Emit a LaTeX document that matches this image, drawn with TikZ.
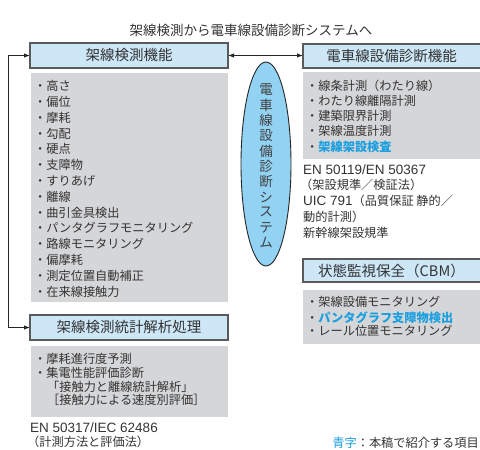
\documentclass[tikz,border=0pt]{standalone}
\usepackage{fontspec}
\setmainfont{Noto Sans CJK JP}
\newfontfamily\lat{Liberation Sans}
\usetikzlibrary{arrows.meta,shapes.geometric}
\definecolor{txt}{HTML}{333333}
\definecolor{hdfill}{HTML}{CDE7F7}
\definecolor{hdline}{HTML}{5A5A5A}
\definecolor{gfill}{HTML}{D5D6D8}
\definecolor{blu}{HTML}{1A9FE0}
\definecolor{ellfill}{HTML}{92D2F2}
\tikzset{
  hdr/.style={draw=hdline,line width=1.1pt,fill=hdfill},
  gbox/.style={fill=gfill},
  hdtext/.style={text=txt,font=\fontsize{14.5}{16}\selectfont,inner sep=0pt},
  item/.style={anchor=west,text=txt,font=\fontsize{12.2}{14}\selectfont,inner sep=0pt},
  latitem/.style={anchor=west,text=txt,font=\fontsize{13.5}{15}\selectfont\lat,inner sep=0pt},
  conn/.style={line width=0.9pt,draw=black!85,-{Latex[length=6pt,width=4.5pt]}},
}
\begin{document}
\begin{tikzpicture}[x=1pt,y=-1pt]
\useasboundingbox (0,0) rectangle (480,450);
% title
\node[hdtext,font=\fontsize{13.5}{15}\selectfont] (title) at (251,30) {架線検測から電車線設備診断システムへ};
% left column
\draw[hdr] (30,43) rectangle (228,68);
\node[hdtext] (h1) at (129,55.5) {架線検測機能};
\fill[gbox] (31,73) rectangle (228,302);
\foreach \t [count=\i] in {高さ,偏位,摩耗,勾配,硬点,支障物,すりあげ,離線,曲引金具検出,パンタグラフモニタリング,路線モニタリング,偏摩耗,測定位置自動補正,在来線接触力}
  \node[item] (a\i) at (34,{86+15.8*(\i-1)}) {・\t};
\draw[hdr] (30,315) rectangle (228,340);
\node[hdtext] (h3) at (129,327.5) {架線検測統計解析処理};
\fill[gbox] (31,346) rectangle (228,417);
\node[item] (b1) at (34,359) {・摩耗進行度予測};
\node[item] (b2) at (34,373) {・集電性能評価診断};
\node[item] (b3) at (47,386.5) {「接触力と離線統計解析」};
\node[item] (b4) at (47,400) {［接触力による速度別評価］};
\node[latitem] (b5) at (30,428) {EN 50317/IEC 62486};
\node[item] (b6) at (27,442) {（計測方法と評価法）};
% left bracket connector
\coordinate (h1w) at (30,55.5);
\coordinate (h3w) at (30,327.5);
\draw[conn,{Latex[length=6pt,width=4.5pt]}-{Latex[length=6pt,width=4.5pt]}] (h1w) -- (8,55.5) |- (h3w);
% right column
\draw[hdr] (303,44) rectangle (482,68);
\node[hdtext] (h2) at (391.5,56) {電車線設備診断機能};
\fill[gbox] (303,72) rectangle (482,159);
\node[item] (c1) at (306,86) {・線条計測（わたり線）};
\node[item] (c2) at (306,101) {・わたり線離隔計測};
\node[item] (c3) at (306,116) {・建築限界計測};
\node[item] (c4) at (306,131) {・架線温度計測};
\node[item] (c5) at (306,147) {・\textcolor{blu}{\bfseries 架線架設検査}};
\node[latitem] (d1) at (303,170) {EN 50119/EN 50367};
\node[item] (d2) at (300,185) {（架設規準／検証法）};
\node[item] (d3) at (303,200.5) {{\lat\fontsize{13.5}{15}\selectfont UIC 791}（品質保証 静的／};
\node[item] (d4) at (303,217) {動的計測）};
\node[item] (d5) at (303,233) {新幹線架設規準};
\draw[hdr] (303,259) rectangle (482,282);
\node[hdtext] (h4) at (391.5,270.5) {状態監視保全（CBM）};
\fill[gbox] (303,290) rectangle (482,344);
\node[item] (e1) at (306,302) {・架線設備モニタリング};
\node[item] (e2) at (306,318) {・\textcolor{blu}{\bfseries パンタグラフ支障物検出}};
\node[item] (e3) at (306,331) {・レール位置モニタリング};
% legend
\node[item,anchor=east] (leg) at (479,443) {\textcolor{blu}{青字}：本稿で紹介する項目};
% middle arrow
\coordinate (h1e) at (228,55.5);
\coordinate (h2w) at (303,55.5);
\draw[conn,{Latex[length=6pt,width=4.5pt]}-{Latex[length=6pt,width=4.5pt]}] (h1e) -- (h2w);
% ellipse
\node[ellipse,draw=black!85,line width=0.9pt,fill=ellfill,minimum width=50pt,minimum height=204pt,inner sep=0pt] (ell) at (266,164) {};
\foreach \c [count=\i] in {電,車,線,設,備,診,断,シ,ス,テ,ム}
  \node[text=black!75,font=\fontsize{13.5}{14}\selectfont,inner sep=0pt] (v\i) at (266,{90+15.3*(\i-1)}) {\c};
\end{tikzpicture}
\end{document}
